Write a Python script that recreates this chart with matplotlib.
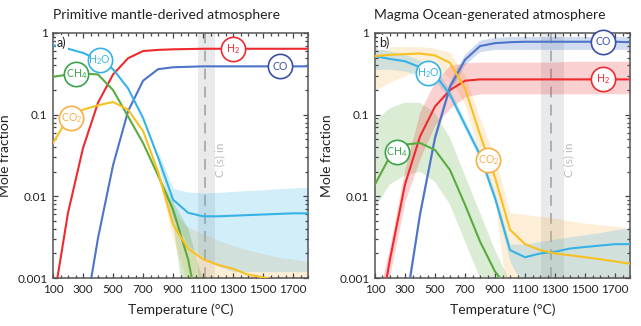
import matplotlib
matplotlib.use("Agg")
import matplotlib.pyplot as plt
from matplotlib.ticker import FixedLocator, LogLocator, NullFormatter, MultipleLocator
import numpy as np

plt.rcParams['font.family'] = ['Lato', 'DejaVu Sans']
plt.rcParams['mathtext.fontset'] = 'custom'
plt.rcParams['mathtext.rm'] = 'Lato'

# temperature nodes (degC)
temps = [100, 200, 300, 400, 500, 600, 700, 800, 900, 1000, 1100, 1200, 1300, 1400, 1500, 1600, 1700, 1800]

# ---- a) primitive mantle-derived atmosphere ----
a_h2 = [0.00047, 0.0063, 0.039, 0.14, 0.31, 0.49, 0.60, 0.62, 0.63, 0.635, 0.64, 0.64, 0.64, 0.64, 0.64, 0.64, 0.64, 0.64]
a_co = [0.00002, 0.00005, 0.00025, 0.0031, 0.024, 0.11, 0.26, 0.36, 0.38, 0.385, 0.39, 0.39, 0.39, 0.39, 0.39, 0.39, 0.39, 0.39]
a_h2o = [0.71, 0.64, 0.57, 0.47, 0.36, 0.21, 0.091, 0.030, 0.0091, 0.0063, 0.0057, 0.0057, 0.0058, 0.0059, 0.006, 0.0061, 0.0062, 0.0062]
a_ch4 = [0.29, 0.31, 0.32, 0.31, 0.20, 0.095, 0.045, 0.018, 0.0069, 0.0017, 0.0002, 0.00003, 0.00001, 0.00001, 0.00001, 0.00001, 0.00001, 0.00001]
a_co2 = [0.045, 0.091, 0.115, 0.13, 0.143, 0.115, 0.063, 0.020, 0.0045, 0.0023, 0.0017, 0.00145, 0.0013, 0.0011, 0.00102, 0.00093, 0.00086, 0.0008]

# uncertainty bands (from 800 degC on)
a_band_t = [800, 900, 1000, 1100, 1200, 1300, 1400, 1500, 1600, 1700, 1800]
a_h2o_lo = [0.025, 0.0055, 0.0025, 0.0018, 0.0014, 0.0012, 0.0012, 0.0012, 0.0012, 0.0012, 0.0012]
a_h2o_hi = [0.036, 0.0125, 0.0113, 0.011, 0.0112, 0.0115, 0.0118, 0.012, 0.0124, 0.0127, 0.0129]
a_co2_lo = [0.018, 0.003, 0.0008, 0.0004, 0.0003, 0.0003, 0.0003, 0.0003, 0.0003, 0.0003, 0.0003]
a_co2_hi = [0.022, 0.0065, 0.0042, 0.0035, 0.0029, 0.0025, 0.0022, 0.002, 0.0018, 0.0017, 0.0016]
a_ch4_t = [800, 900, 1000, 1100, 1200]
a_ch4_lo = [0.018, 0.0045, 0.0002, 0.00003, 0.00001]
a_ch4_hi = [0.018, 0.0085, 0.004, 0.0009, 0.0002]

# ---- b) magma ocean-generated atmosphere ----
b_h2 = [0.00016, 0.0017, 0.014, 0.054, 0.126, 0.20, 0.26, 0.27, 0.27, 0.27, 0.27, 0.27, 0.27, 0.27, 0.27, 0.27, 0.27, 0.27]
b_co = [0.00001, 0.00003, 0.0004, 0.006, 0.052, 0.22, 0.47, 0.69, 0.75, 0.77, 0.78, 0.78, 0.78, 0.78, 0.78, 0.78, 0.78, 0.77]
b_h2o = [0.52, 0.48, 0.45, 0.38, 0.31, 0.176, 0.075, 0.032, 0.0095, 0.0022, 0.0018, 0.0020, 0.0021, 0.0023, 0.0024, 0.0025, 0.0026, 0.0026]
b_co2 = [0.52, 0.54, 0.55, 0.56, 0.53, 0.43, 0.21, 0.057, 0.017, 0.0039, 0.0026, 0.0022, 0.0020, 0.0019, 0.0018, 0.0017, 0.0016, 0.0015]
b_ch4 = [0.014, 0.031, 0.043, 0.045, 0.037, 0.021, 0.0079, 0.0028, 0.0012, 0.0007, 0.0002, 0.00005, 0.00001, 0.00001, 0.00001, 0.00001, 0.00001, 0.00001]

b_h2_lo = [0.0001, 0.0011, 0.0087, 0.029, 0.075, 0.12, 0.165, 0.18, 0.18, 0.18, 0.18, 0.18, 0.18, 0.18, 0.18, 0.18, 0.18, 0.18]
b_h2_hi = [0.0004, 0.0025, 0.022, 0.11, 0.256, 0.40, 0.43, 0.44, 0.44, 0.44, 0.44, 0.44, 0.44, 0.45, 0.45, 0.45, 0.45, 0.45]
b_co_lo = [0.00001, 0.00002, 0.0003, 0.005, 0.045, 0.19, 0.40, 0.58, 0.62, 0.62, 0.62, 0.62, 0.62, 0.62, 0.62, 0.62, 0.62, 0.62]
b_co_hi = [0.00002, 0.00004, 0.0005, 0.0072, 0.06, 0.25, 0.54, 0.80, 0.87, 0.89, 0.89, 0.89, 0.89, 0.89, 0.89, 0.89, 0.89, 0.89]
b_h2o_lo = [0.355, 0.36, 0.34, 0.30, 0.26, 0.155, 0.066, 0.028, 0.0083, 0.0016, 0.0007, 0.0004, 0.0004, 0.0004, 0.0004, 0.0004, 0.0004, 0.0004]
b_h2o_hi = [0.655, 0.60, 0.55, 0.46, 0.37, 0.20, 0.085, 0.036, 0.011, 0.0026, 0.0026, 0.0028, 0.003, 0.0032, 0.0034, 0.0036, 0.0039, 0.0041]
b_co2_lo = [0.2, 0.25, 0.3, 0.36, 0.38, 0.28, 0.13, 0.03, 0.009, 0.0003, 0.0003, 0.0003, 0.0003, 0.0003, 0.0003, 0.0003, 0.0003, 0.0003]
b_co2_hi = [0.69, 0.68, 0.68, 0.68, 0.65, 0.58, 0.30, 0.09, 0.03, 0.0063, 0.006, 0.0057, 0.0054, 0.005, 0.0047, 0.0045, 0.0043, 0.0041]
b_ch4_lo = [0.0072, 0.014, 0.018, 0.02, 0.015, 0.0079, 0.0028, 0.001, 0.0003, 0.0001, 0.00003, 0.00001, 0.00001, 0.00001, 0.00001, 0.00001, 0.00001, 0.00001]
b_ch4_hi = [0.083, 0.12, 0.14, 0.14, 0.105, 0.052, 0.018, 0.0063, 0.0022, 0.0009, 0.0003, 0.0001, 0.00001, 0.00001, 0.00001, 0.00001, 0.00001, 0.00001]

# colours
c_h2 = '#ee2a2f'
c_co = '#4d74c8'
c_co_lab = '#3c4ea6'
c_h2o = '#36b2e6'
c_ch4 = '#5aab3f'
c_ch4_lab = '#3aa24a'
c_co2 = '#f8c020'
c_co2_lab = '#f7b048'


def tag(ax, x, y, s, c):
    # round label: white circle with coloured rim, species name inside
    ax.plot([x], [y], marker='o', ms=17.5, mfc='white', mec=c, mew=1.2, zorder=8, clip_on=False)
    ax.text(x, y, s, color=c, fontsize=7.6, ha='center', va='center', zorder=9)


def style(ax, letter, cs_x, span, dash_x):
    ax.set_yscale('log')
    ax.set_xlim(100, 1800)
    ax.set_ylim(0.001, 1)
    ax.xaxis.set_major_locator(FixedLocator([100, 300, 500, 700, 900, 1100, 1300, 1500, 1700]))
    ax.xaxis.set_minor_locator(MultipleLocator(50))
    ax.yaxis.set_major_locator(FixedLocator([0.001, 0.01, 0.1, 1]))
    ax.set_yticklabels(['0.001', '0.01', '0.1', '1'])
    ax.yaxis.set_minor_locator(LogLocator(base=10, subs=np.arange(2, 10)))
    ax.yaxis.set_minor_formatter(NullFormatter())
    ax.tick_params(which='both', direction='in', top=True, right=True, colors='#444444',
                   labelcolor='#222222', labelsize=8.5, width=0.9)
    ax.tick_params(which='major', length=3.5, pad=4)
    ax.tick_params(which='minor', length=2.5)
    for sp in ax.spines.values():
        sp.set_color('#555555')
        sp.set_linewidth(1.1)
    ax.set_xlabel('Temperature (°C)', fontsize=10, color='#222222')
    ax.set_ylabel('Mole fraction', fontsize=10, color='#222222')
    ax.xaxis.set_label_coords(0.5, -0.105)
    ax.yaxis.set_label_coords(-0.165, 0.5)
    ax.axvspan(span[0], span[1], color='#e4e5e6', alpha=0.8, zorder=0.5, lw=0)
    ax.axvline(dash_x, color='#aaaaaa', lw=1.3, ls=(0, (6, 4)), zorder=0.6)
    ax.text(cs_x, 0.028, 'C (s) in', rotation=90, color='#bbbbbb', fontsize=8.5,
            ha='center', va='center', zorder=0.7)
    ax.text(0.015, 0.985, letter, transform=ax.transAxes, fontsize=9, color='#222222',
            ha='left', va='top', zorder=9,
            bbox=dict(boxstyle='square,pad=0.1', fc='white', ec='none'))


fig = plt.figure(figsize=(6.41, 3.26), dpi=100)
ax1 = fig.add_axes([0.0827, 0.147, 0.398, 0.752])
ax2 = fig.add_axes([0.585, 0.147, 0.398, 0.752])

# panel a
ax1.fill_between(a_band_t, a_co2_lo, a_co2_hi, color='#f9b24a', alpha=0.22, lw=0, zorder=1)
ax1.fill_between(a_band_t, a_h2o_lo, a_h2o_hi, color='#36b2e6', alpha=0.22, lw=0, zorder=1)
ax1.fill_between(a_ch4_t, a_ch4_lo, a_ch4_hi, color='#5aab3f', alpha=0.25, lw=0, zorder=1)
ax1.plot(temps, a_h2, color=c_h2, lw=1.5, zorder=3)
ax1.plot(temps, a_co, color=c_co, lw=1.5, zorder=3)
ax1.plot(temps, a_h2o, color=c_h2o, lw=1.5, zorder=3)
ax1.plot(temps, a_ch4, color=c_ch4, lw=1.5, zorder=3)
ax1.plot(temps, a_co2, color=c_co2, lw=1.5, zorder=3)
style(ax1, 'a)', 1210, (1067, 1178), 1110)
tag(ax1, 411, 0.47, 'H$_2$O', c_h2o)
tag(ax1, 256, 0.31, 'CH$_4$', c_ch4_lab)
tag(ax1, 222, 0.091, 'CO$_2$', c_co2_lab)
tag(ax1, 1300, 0.64, 'H$_2$', c_h2)
tag(ax1, 1611, 0.39, 'CO', c_co_lab)

# panel b
ax2.fill_between(temps, b_ch4_lo, b_ch4_hi, color='#5aab3f', alpha=0.22, lw=0, zorder=1)
ax2.fill_between(temps, b_co2_lo, b_co2_hi, color='#f9b24a', alpha=0.22, lw=0, zorder=1)
ax2.fill_between(temps, b_h2o_lo, b_h2o_hi, color='#36b2e6', alpha=0.22, lw=0, zorder=1)
ax2.fill_between(temps, b_h2_lo, b_h2_hi, color='#ee2a2f', alpha=0.22, lw=0, zorder=1)
ax2.fill_between(temps, b_co_lo, b_co_hi, color='#4d74c8', alpha=0.25, lw=0, zorder=1)
ax2.plot(temps, b_h2, color=c_h2, lw=1.5, zorder=3)
ax2.plot(temps, b_co, color=c_co, lw=1.5, zorder=3)
ax2.plot(temps, b_h2o, color=c_h2o, lw=1.5, zorder=3)
ax2.plot(temps, b_ch4, color=c_ch4, lw=1.5, zorder=3)
ax2.plot(temps, b_co2, color=c_co2, lw=1.5, zorder=3)
style(ax2, 'b)', 1390, (1204, 1360), 1273)
tag(ax2, 1622, 0.78, 'CO', c_co_lab)
tag(ax2, 1622, 0.27, 'H$_2$', c_h2)
tag(ax2, 456, 0.32, 'H$_2$O', c_h2o)
tag(ax2, 244, 0.035, 'CH$_4$', c_ch4_lab)
tag(ax2, 856, 0.028, 'CO$_2$', c_co2_lab)

# titles, left-aligned with each panel
fig.text(53 / 641, 1 - 15 / 326, 'Primitive mantle-derived atmosphere', fontsize=10,
         color='#222222', ha='left', va='center')
fig.text(374 / 641, 1 - 15 / 326, 'Magma Ocean-generated atmosphere', fontsize=10,
         color='#222222', ha='left', va='center')

fig.savefig('out.png', dpi=100)
